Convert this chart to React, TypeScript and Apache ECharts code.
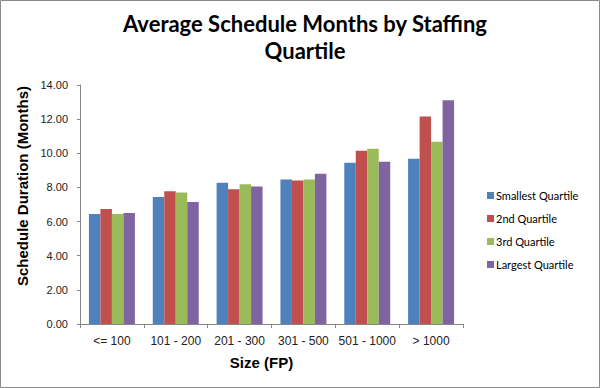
import React, { useEffect, useRef } from "react";
import * as echarts from "echarts";

const categories = ["<= 100", "101 - 200", "201 - 300", "301 - 500", "501 - 1000", "> 1000"];
const seriesNames = ["Smallest Quartile", "2nd Quartile", "3rd Quartile", "Largest Quartile"];
const smallest = [6.44, 7.44, 8.28, 8.47, 9.45, 9.68];
const second = [6.74, 7.77, 7.89, 8.41, 10.15, 12.16];
const third = [6.44, 7.71, 8.18, 8.47, 10.27, 10.68];
const largest = [6.5, 7.15, 8.06, 8.8, 9.51, 13.1];
const colors = ["#4F81BD", "#C0504D", "#9BBB59", "#8064A2"];

export default function App() {
  const ref = useRef<HTMLDivElement>(null);
  useEffect(() => {
    document.body.style.margin = "0";
    const chart = echarts.init(ref.current!, null, { renderer: "svg" });
    const data = [smallest, second, third, largest];
    chart.setOption({
      animation: false,
      backgroundColor: "#ffffff",
      title: {
        text: "Average Schedule Months by Staffing\nQuartile",
        left: 300,
        top: 5,
        textAlign: "center",
        textStyle: {
          fontFamily: "Lato",
          fontWeight: "bold",
          fontSize: 22,
          lineHeight: 27,
          color: "#000",
        },
      },
      graphic: [
        {
          type: "rect",
          shape: { x: 0.5, y: 0.5, width: 599, height: 387 },
          style: { fill: "none", stroke: "#8a8a8a", lineWidth: 1 },
          silent: true,
        },
      ],
      legend: {
        orient: "vertical",
        left: 482,
        top: 185,
        itemWidth: 7,
        itemHeight: 7,
        itemGap: 12,
        icon: "rect",
        data: seriesNames,
        textStyle: { fontFamily: "Lato", fontSize: 11, color: "#000", padding: [0, 0, 0, -3] },
      },
      grid: { left: 80, top: 85, width: 383, height: 239, containLabel: false },
      xAxis: {
        type: "category",
        data: categories,
        name: "Size (FP)",
        nameLocation: "middle",
        nameGap: 31,
        nameTextStyle: {
          fontFamily: "Liberation Sans",
          fontWeight: "bold",
          fontSize: 15,
          color: "#000",
          padding: [0, 20, 0, 0],
        },
        axisLine: { lineStyle: { color: "#868686" } },
        axisTick: { show: true, length: 4, alignWithLabel: false, lineStyle: { color: "#868686" } },
        axisLabel: { fontFamily: "Liberation Sans", fontSize: 12, color: "#222", margin: 11, interval: 0 },
      },
      yAxis: {
        type: "value",
        min: 0,
        max: 14,
        interval: 2,
        name: "Schedule Duration (Months)",
        nameLocation: "middle",
        nameGap: 43,
        nameTextStyle: {
          fontFamily: "Liberation Sans",
          fontWeight: "bold",
          fontSize: 15,
          color: "#000",
          padding: [0, 0, 0, 37],
        },
        axisLine: { show: true, lineStyle: { color: "#868686" } },
        axisTick: { show: true, length: 3, lineStyle: { color: "#868686" } },
        splitLine: { show: false },
        axisLabel: {
          fontFamily: "Liberation Sans",
          fontSize: 11,
          color: "#222",
          margin: 12,
          formatter: (v: number) => v.toFixed(2),
        },
      },
      series: seriesNames.map((name, i) => ({
        name,
        type: "bar",
        data: data[i],
        barGap: "0%",
        barCategoryGap: "28%",
        itemStyle: { color: colors[i] },
      })),
    });
    return () => chart.dispose();
  }, []);
  return <div ref={ref} style={{ width: 600, height: 388 }} />;
}
